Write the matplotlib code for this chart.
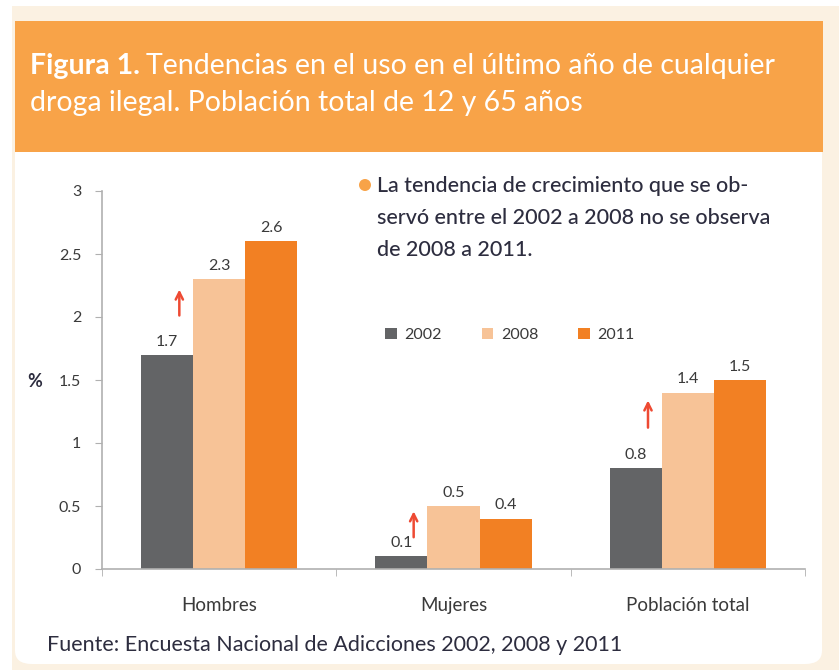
import matplotlib
matplotlib.use("Agg")
from matplotlib import pyplot as plt
from matplotlib.patches import Rectangle, FancyBboxPatch, Patch, Ellipse
import numpy as np

plt.rcParams['font.family'] = ['Lato', 'DejaVu Sans']

# datos
categorias = ["Hombres", "Mujeres", "Población total"]
anios = ["2002", "2008", "2011"]
v2002 = [1.7, 0.1, 0.8]
v2008 = [2.3, 0.5, 1.4]
v2011 = [2.6, 0.4, 1.5]
etiquetas_y = ["0", "0.5", "1", "1.5", "2", "2.5", "3"]
# flechas de tendencia (inicio, fin) en %
flecha_ini = [1.99, 0.23, 1.10]
flecha_fin = [2.24, 0.48, 1.36]

colores = ['#636466', '#F7C397', '#F28023']
texto_osc = '#2d2d3f'
gris_txt = '#3a3a3a'

W, H = 839, 670
fig = plt.figure(figsize=(W / 100, H / 100), dpi=100, facecolor='white')


def px_rect(x0, y0, x1, y1, **kw):
    # rectangulo en pixeles (origen arriba a la izquierda)
    return Rectangle((x0 / W, 1 - y1 / H), (x1 - x0) / W, (y1 - y0) / H,
                     transform=fig.transFigure, **kw)


# fondo crema, panel blanco y cabecera naranja
fig.patches.append(px_rect(12, 6, 839, 670, facecolor='#FBF1E2', edgecolor='none', zorder=-3))
fig.patches.append(FancyBboxPatch((15 / W, 1 - 664 / H), (822 - 15) / W, (664 - 140) / H,
                                  boxstyle="round,pad=0,rounding_size=0.02",
                                  transform=fig.transFigure, facecolor='white',
                                  edgecolor='none', zorder=-2))
fig.patches.append(px_rect(15, 21, 823, 152, facecolor='#F8A348', edgecolor='none', zorder=-1))

t1 = fig.text(30 / W, 1 - 66 / H, "Figura 1.", color='white', fontsize=20.5,
              fontweight='bold', va='center', ha='left')
fig.canvas.draw()
bb = t1.get_window_extent()
fig.text((bb.x1 + 6) / W, 1 - 66 / H,
         "Tendencias en el uso en el último año de cualquier",
         color='white', fontsize=20.5, va='center', ha='left')
fig.text(30 / W, 1 - 103 / H, "droga ilegal. Población total de 12 y 65 años",
         color='white', fontsize=20.5, va='center', ha='left')

ax = fig.add_axes([102 / W, 1 - 569 / H, (805 - 102) / W, (569 - 191) / H])
ax.set_facecolor('none')

x = np.arange(len(categorias))
ancho = 0.222
for i, (serie, col) in enumerate(zip([v2002, v2008, v2011], colores)):
    pos = x + (i - 1) * ancho
    ax.bar(pos, serie, width=ancho, color=col, label=anios[i], zorder=2)
    for xb, v in zip(pos, serie):
        ax.text(xb, v + 0.05, f"{v:.1f}", ha='center', va='bottom',
                fontsize=11.5, color=gris_txt)

for xi, y0, y1 in zip(x, flecha_ini, flecha_fin):
    ax.annotate("", xy=(xi - 0.17, y1), xytext=(xi - 0.17, y0),
                arrowprops=dict(arrowstyle='->', color='#EE4A33', lw=1.8,
                                mutation_scale=13))

ax.set_xlim(-0.5, 2.5)
ax.set_ylim(0, 3)
ax.set_yticks(np.arange(0, 3.01, 0.5))
ax.set_yticklabels(etiquetas_y, fontsize=11.5, color=gris_txt)
ax.set_xticks(x)
ax.set_xticklabels(categorias, fontsize=13.5, color=gris_txt)
ax.set_xticks([-0.5, 0.5, 1.5, 2.5], minor=True)
ax.tick_params(axis='x', which='major', length=0, pad=20)
ax.tick_params(axis='x', which='minor', length=5, color='#b0b0b0')
ax.tick_params(axis='y', length=5, color='#b0b0b0', pad=10)
for s in ['top', 'right']:
    ax.spines[s].set_visible(False)
for s in ['left', 'bottom']:
    ax.spines[s].set_color('#b0b0b0')
    ax.spines[s].set_linewidth(1.2)

fig.text(35 / W, 1 - 381 / H, "%", fontsize=13, fontweight='bold',
         color=texto_osc, ha='center', va='center')

# nota
fig.patches.append(Ellipse((365 / W, 1 - 185 / H), 12 / W, 12 / H, transform=fig.transFigure,
                           facecolor='#F8A348', edgecolor='none'))
nota = ["La tendencia de crecimiento que se ob-",
        "servó entre el 2002 a 2008 no se observa",
        "de 2008 a 2011."]
for k, linea in enumerate(nota):
    fig.text(377 / W, 1 - (186 + 32 * k) / H, linea, fontsize=15.5, color=texto_osc,
             fontweight='medium', ha='left', va='center')

handles = [Patch(facecolor=c, edgecolor='none') for c in colores]
fig.legend(handles, anios, loc='center left', bbox_to_anchor=(371 / W, 1 - 335 / H),
           ncol=3, frameon=False, fontsize=11.5, handlelength=0.7, handleheight=0.7,
           handletextpad=0.5, columnspacing=2.5, labelcolor=gris_txt)

fig.text(47 / W, 1 - 645 / H, "Fuente: Encuesta Nacional de Adicciones 2002, 2008 y 2011",
         fontsize=15.5, color=texto_osc, ha='left', va='center')

fig.savefig("out.png", dpi=100, facecolor=fig.get_facecolor())
